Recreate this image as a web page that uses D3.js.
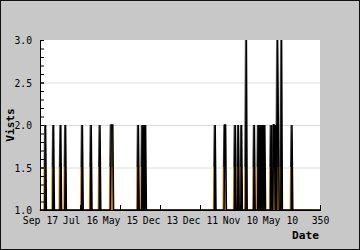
<!DOCTYPE html>
<html>
<head>
<meta charset="utf-8">
<script src="https://cdn.jsdelivr.net/npm/d3@7"></script>
<style>
  body { margin: 0; background: #fff; }
  svg { display: block; }
</style>
</head>
<body>
<svg id="chart"></svg>
<script>
// Day index and visits at each turning point of the line
const days = [0,
  6, 7, 8, 16, 17, 18, 25, 26, 27, 31, 32, 33,
  52, 53, 54, 63, 64, 65, 74, 75, 76,
  88, 89, 91, 92, 122, 123, 124,
  127, 128, 129, 130, 131, 132, 133,
  218, 219, 220, 230, 231, 232, 233,
  243, 244, 245, 247, 248, 249, 251, 252, 253,
  257, 258, 259, 267, 268, 269,
  272, 273, 274, 275, 276, 277, 278, 279, 280, 281, 282,
  288, 289, 290,
  291, 292, 293, 294, 295, 296, 297, 298, 299,
  301, 302, 303, 314, 315, 316, 350];
const visits = [1,
  1, 2, 1, 1, 2, 1, 1, 2, 1, 1, 2, 1,
  1, 2, 1, 1, 2, 1, 1, 2, 1,
  1, 2, 2, 1, 1, 2, 1,
  1, 2, 1, 2, 1, 2, 1,
  1, 2, 1, 1, 2, 2, 1,
  1, 2, 1, 1, 2, 1, 1, 2, 1,
  1, 3, 1, 1, 2, 1,
  1, 2, 1, 2, 1, 2, 1, 2, 1, 2, 1,
  1, 2, 1,
  1, 2, 2, 1, 2, 1, 3, 2, 1,
  1, 3, 1, 1, 2, 1, 1];

const xTickValues = [0, 50, 100, 150, 200, 250, 300, 350];
const xTickLabels = ["Sep 17", "Jul 16", "May 15", "Dec 13", "Dec 11", "Nov 10", "May 10", "350"];
const yTickValues = [1.0, 1.5, 2.0, 2.5, 3.0];

const width = 360, height = 250;
const margin = { top: 40, right: 40, bottom: 40, left: 40 };

const svg = d3.select('#chart')
  .attr('width', width)
  .attr('height', height);

// outer frame
svg.append('rect')
  .attr('x', 0.5).attr('y', 0.5)
  .attr('width', width - 1).attr('height', height - 1)
  .attr('fill', '#c8c8c8')
  .attr('stroke', '#111');

const x = d3.scaleLinear().domain([0, 350]).range([margin.left, width - margin.right]);
const y = d3.scaleLinear().domain([1, 3]).range([height - margin.bottom, margin.top]);

// plot area
svg.append('rect')
  .attr('x', x(0)).attr('y', y(3))
  .attr('width', x(350) - x(0)).attr('height', y(1) - y(3))
  .attr('fill', '#fff');

// grid
svg.append('g')
  .selectAll('line')
  .data([1.5, 2.0, 2.5])
  .join('line')
  .attr('x1', x(0)).attr('x2', x(350))
  .attr('y1', d => y(d) + 0.5).attr('y2', d => y(d) + 0.5)
  .attr('stroke', '#dcdcdc');

const points = days.map((d, i) => ({ day: d, v: visits[i] }));

// shadow gradient: orange below 1.5, dark above
const defs = svg.append('defs');
const grad = defs.append('linearGradient')
  .attr('id', 'shade')
  .attr('gradientUnits', 'userSpaceOnUse')
  .attr('x1', 0).attr('x2', 0)
  .attr('y1', y(1)).attr('y2', y(3));
grad.append('stop').attr('offset', '0%').attr('stop-color', '#e39200');
grad.append('stop').attr('offset', '25%').attr('stop-color', '#b57400');
grad.append('stop').attr('offset', '25%').attr('stop-color', '#333');
grad.append('stop').attr('offset', '100%').attr('stop-color', '#777');

const area = d3.area()
  .x(d => x(d.day))
  .y0(y(1))
  .y1(d => y(d.v));

const line = d3.line()
  .x(d => x(d.day))
  .y(d => y(d.v));

svg.append('path')
  .datum(points)
  .attr('d', area)
  .attr('fill', '#f5a300');

svg.append('path')
  .datum(points)
  .attr('d', line)
  .attr('transform', 'translate(-1,0)')
  .attr('fill', 'none')
  .attr('stroke', 'url(#shade)')
  .attr('stroke-width', 1.2);

svg.append('path')
  .datum(points)
  .attr('d', line)
  .attr('fill', 'none')
  .attr('stroke', '#000')
  .attr('stroke-width', 1.5);

const font = '"DejaVu Sans Mono", monospace';

// y axis, minor ticks first
svg.append('g')
  .attr('transform', `translate(${x(0)},0)`)
  .call(d3.axisLeft(y).tickValues(d3.range(10, 31).map(d => d / 10)).tickSize(-4).tickFormat(''))
  .call(g => g.select('.domain').remove())
  .call(g => g.selectAll('line').attr('stroke', '#000'));

const yAxis = svg.append('g')
  .attr('transform', `translate(${x(0)},0)`)
  .call(d3.axisLeft(y).tickValues(yTickValues).tickSize(-4).tickPadding(8).tickFormat(d3.format('.1f')));
yAxis.select('.domain').attr('d', `M0.5,${y(3)}V${y(1)}`).attr('stroke', '#000');
yAxis.selectAll('line').attr('stroke', '#000');
yAxis.selectAll('text')
  .attr('font-family', font)
  .attr('font-size', 9.7)
  .attr('fill', '#000')
  .attr('dy', '0.4em');

// x axis
const xAxis = svg.append('g')
  .attr('transform', `translate(0,${y(1)})`)
  .call(d3.axisBottom(x).tickValues(xTickValues).tickSize(-5).tickPadding(7)
    .tickFormat((d, i) => xTickLabels[i]));
xAxis.select('.domain').attr('d', `M${x(0)},0.5H${x(350) + 1}`).attr('stroke', '#000');
xAxis.selectAll('line').attr('stroke', '#000');
xAxis.selectAll('text')
  .attr('font-family', font)
  .attr('font-size', 9.8)
  .attr('fill', '#000')
  .attr('dy', '0.71em');

// axis titles
svg.append('text')
  .attr('x', 319).attr('y', 239)
  .attr('text-anchor', 'end')
  .attr('font-family', font)
  .attr('font-weight', 'bold')
  .attr('font-size', 11.2)
  .text('Date');

svg.append('text')
  .attr('transform', `translate(14,${(y(1) + y(3)) / 2}) rotate(-90)`)
  .attr('text-anchor', 'middle')
  .attr('font-family', font)
  .attr('font-weight', 'bold')
  .attr('font-size', 11.2)
  .text('Vists');
</script>
</body>
</html>
